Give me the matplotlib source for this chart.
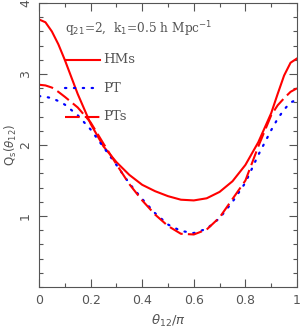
import matplotlib
matplotlib.use('Agg')
import matplotlib.pyplot as plt
from matplotlib.ticker import MultipleLocator

# theta_12 / pi
theta = [0.0, 0.025, 0.05, 0.075, 0.10, 0.15, 0.20, 0.25, 0.30, 0.35, 0.40, 0.45, 0.50,
         0.55, 0.60, 0.65, 0.70, 0.75, 0.80, 0.85, 0.90, 0.925, 0.95, 0.975, 1.0]

q_hms = [3.77, 3.73, 3.60, 3.42, 3.20, 2.72, 2.30, 1.98, 1.76, 1.58, 1.44, 1.35, 1.28,
         1.23, 1.22, 1.25, 1.34, 1.49, 1.72, 2.04, 2.45, 2.72, 2.98, 3.16, 3.22]
q_pt = [2.69, 2.68, 2.66, 2.62, 2.57, 2.42, 2.22, 1.97, 1.72, 1.46, 1.24, 1.04, 0.88,
        0.79, 0.76, 0.82, 0.97, 1.20, 1.47, 1.86, 2.21, 2.37, 2.50, 2.60, 2.64]
q_pts = [2.85, 2.84, 2.81, 2.75, 2.68, 2.53, 2.32, 2.02, 1.73, 1.45, 1.22, 1.02, 0.86,
         0.75, 0.74, 0.81, 0.98, 1.24, 1.50, 1.98, 2.42, 2.56, 2.66, 2.75, 2.80]

xticks = [0, 0.2, 0.4, 0.6, 0.8, 1.0]
xticklabels = ['0', '0.2', '0.4', '0.6', '0.8', '1']
yticks = [1, 2, 3, 4]

RED = '#ff0000'
BLUE = '#0000ff'
GREY = '#555555'

fig = plt.figure(figsize=(3.0, 3.34), dpi=100)
ax = fig.add_axes([0.13, 0.1407, 0.86, 0.85])

ax.plot(theta, q_hms, color=RED, lw=1.5)
ax.plot(theta, q_pt, color=BLUE, lw=1.6, ls=(0, (0.6, 3.4)), dash_capstyle='round')
ax.plot(theta, q_pts, color=RED, lw=1.5, ls=(0, (7, 2.5)))

# in-plot legend
ax.plot([0.10, 0.235], [3.2, 3.2], color=RED, lw=1.5)
ax.plot([0.10, 0.235], [2.8, 2.8], color=BLUE, lw=1.6, ls=(0, (0.6, 3.4)), dash_capstyle='round')
ax.plot([0.10, 0.235], [2.4, 2.4], color=RED, lw=1.5, ls=(0, (7, 2.5)))
for yy, lab in [(3.2, 'HMs'), (2.8, 'PT'), (2.4, 'PTs')]:
    ax.text(0.25, yy, lab, family='DejaVu Serif', fontsize=9.5, color=GREY, va='center')

ax.text(0.10, 3.63, r'q$_{21}$=2,  k$_1$=0.5 h Mpc$^{-1}$', family='DejaVu Serif',
        fontsize=8.7, color=GREY, va='center')

ax.set_xlim(0, 1)
ax.set_ylim(0, 4)
ax.xaxis.set_minor_locator(MultipleLocator(0.1))
ax.yaxis.set_minor_locator(MultipleLocator(0.2))
ax.set_xticks(xticks, xticklabels)
ax.set_yticks(yticks, [str(v) for v in yticks])
ax.tick_params(which='both', direction='in', top=True, right=True, colors=GREY,
               labelcolor=GREY, labelsize=9, width=0.8)
ax.tick_params(which='major', length=6, pad=5)
ax.tick_params(which='minor', length=3)
for lbl in ax.get_yticklabels():
    lbl.set_rotation(90)
    lbl.set_va('center')
for s in ax.spines.values():
    s.set_color(GREY)
    s.set_linewidth(0.8)

ax.set_xlabel(r'$\theta_{12}/\pi$', fontsize=9.5, color=GREY, labelpad=4)
ax.set_ylabel(r'Q$_{\rm s}(\theta_{12})$', fontsize=8.5, color=GREY)
ax.yaxis.set_label_coords(-0.078, 0.5)

fig.savefig('out.png', dpi=100)
